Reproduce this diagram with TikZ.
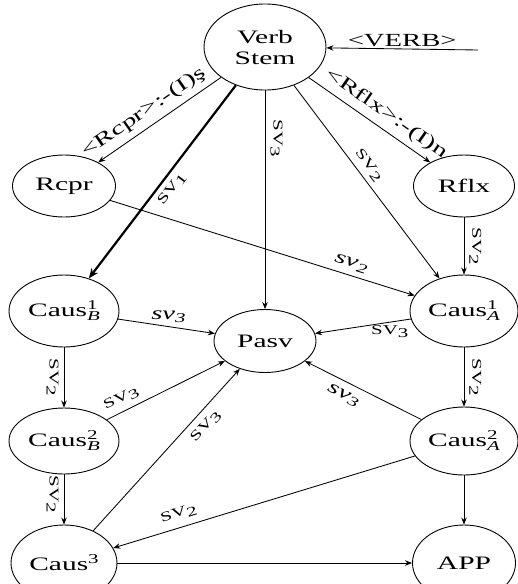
\documentclass[tikz,border=0pt]{standalone}
\usepackage{fontspec}
\setmainfont{Liberation Serif}
\usetikzlibrary{arrows.meta,shapes.geometric}
\newcommand\st[1]{\scalebox{1.55}[1]{#1}}
\newcommand\smallfs{\fontsize{13.5}{15}\selectfont}
\newcommand\lab[1]{\st{{\fontsize{13.5}{16}\selectfont SV}\raisebox{-3pt}{\smallfs #1}}}
\newcommand\ilab[1]{\st{\textit{sv}\raisebox{-3pt}{\smallfs\itshape #1}}}
\newcommand\caus[2]{\st{Caus\rlap{\raisebox{7pt}{\smallfs #1}}\raisebox{-4pt}{\smallfs\itshape #2}}}
\begin{document}
\begin{tikzpicture}[x=1pt,y=-1pt,
  nd/.style={draw, ellipse, line width=0.9pt, inner sep=0pt, font=\fontsize{19}{21}\selectfont, align=center},
  ed/.style={draw, line width=0.85pt, -{Stealth[length=7pt,width=5.5pt]}},
  tk/.style={draw, line width=2.2pt, -{Stealth[length=10pt,width=8pt]}},
  lb/.style={font=\fontsize{18.5}{21}\selectfont, inner sep=2pt}]
\useasboundingbox (0,0) rectangle (518,584);
\clip (0,0) rectangle (518,584);
\node[nd, minimum width=122pt, minimum height=86pt] (vs) at (265,47) {\st{Verb}\\\st{Stem}};
\node[nd, minimum width=103pt, minimum height=62pt] (rcpr) at (64,186) {\st{Rcpr}};
\node[nd, minimum width=101pt, minimum height=62pt] (rflx) at (464,186) {\st{Rflx}};
\node[nd, minimum width=110pt, minimum height=72pt] (c1b) at (64,311) {\caus{1}{B}};
\node[nd, minimum width=102pt, minimum height=63pt] (pasv) at (265,341) {\st{Pasv}};
\node[nd, minimum width=108pt, minimum height=72pt] (c1a) at (464,311) {\caus{1}{A}};
\node[nd, minimum width=110pt, minimum height=66pt] (c2b) at (64,441) {\caus{2}{B}};
\node[nd, minimum width=108pt, minimum height=68pt] (c2a) at (464,441) {\caus{2}{A}};
\node[nd, minimum width=106pt, minimum height=76pt] (c3) at (64,563) {\st{Caus\raisebox{7pt}{\smallfs 3}}};
\node[nd, minimum width=103pt, minimum height=76pt] (app) at (464,563) {\st{APP}};
\coordinate (in) at (478,50);
\draw[ed] (in) -- node[lb, above, pos=0.5]{\st{<VERB>}} (vs);
\draw[ed] (vs) -- node[lb, sloped, above=4pt, pos=0.56]{\st{<Rcpr>:-(I)ş}} (rcpr);
\draw[ed] (vs) -- node[lb, sloped, above=4pt, pos=0.57]{\st{<Rflx>:-(I)n}} (rflx);
\draw[tk] (vs) -- node[lb, sloped, below=3pt, pos=0.5]{\lab{1}} (c1b);
\draw[ed] (vs) -- node[lb, sloped, above=3pt, pos=0.22]{\lab{3}} (pasv);
\draw[ed] (vs) -- node[lb, sloped, above=3pt, pos=0.45]{\lab{2}} (c1a);
\draw[ed] (rcpr) -- node[lb, sloped, above=3pt, pos=0.78]{\ilab{2}} (c1a);
\draw[ed] (rflx) -- node[lb, sloped, above=3pt, pos=0.5]{\lab{2}} (c1a);
\draw[ed] (c1b) -- node[lb, above=2pt, pos=0.52]{\ilab{3}} (pasv);
\draw[ed] (c1a) -- node[lb, below=1pt, pos=0.22]{\lab{3}} (pasv);
\draw[ed] (c1b) -- node[lb, sloped, below=3pt, pos=0.5]{\lab{2}} (c2b);
\draw[ed] (c1a) -- node[lb, sloped, above=3pt, pos=0.5]{\lab{2}} (c2a);
\draw[ed] (c2b) -- node[lb, sloped, above=4pt, pos=0.17]{\lab{3}} (pasv);
\draw[ed] (c3) -- node[lb, sloped, below=5pt, pos=0.7]{\lab{3}} (pasv);
\draw[ed] (c2a) -- node[lb, sloped, below=5pt, pos=0.62]{\ilab{3}} (pasv);
\draw[ed] (c2a) -- node[lb, sloped, above=5pt, pos=0.77]{\lab{2}} (c3);
\draw[ed] (c2b) -- node[lb, sloped, below=3pt, pos=0.4]{\lab{2}} (c3);
\draw[ed] (c2a) -- (app);
\draw[ed] (c3) -- (app);
\end{tikzpicture}
\end{document}
